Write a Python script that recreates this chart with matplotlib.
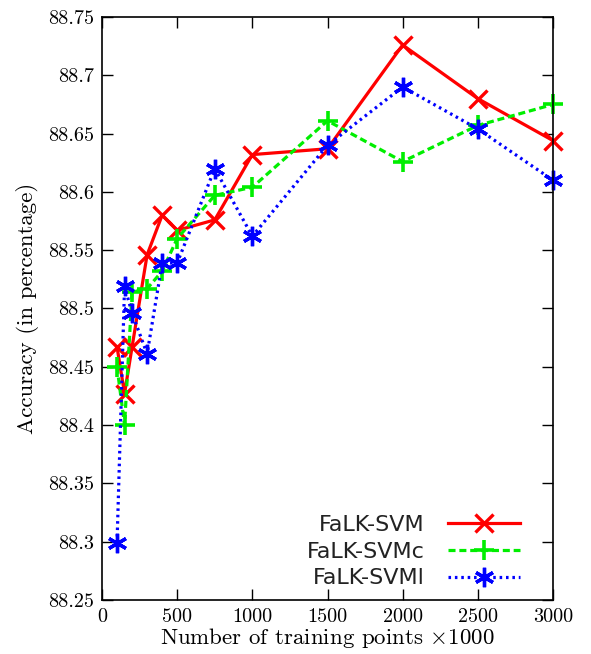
import matplotlib
matplotlib.use("Agg")
import matplotlib.pyplot as plt

# training set sizes (x1000)
sizes = [100, 150, 200, 300, 400, 500, 750, 1000, 1500, 2000, 2500, 3000]

falk_svm = [88.467, 88.427, 88.467, 88.546, 88.580, 88.567, 88.576, 88.632,
            88.637, 88.726, 88.680, 88.644]
falk_svmc = [88.450, 88.400, 88.514, 88.517, 88.532, 88.560, 88.597, 88.604,
             88.661, 88.626, 88.657, 88.675]
falk_svml = [88.299, 88.519, 88.496, 88.461, 88.539, 88.539, 88.620, 88.562,
             88.640, 88.690, 88.654, 88.610]

x_ticks = [0, 500, 1000, 1500, 2000, 2500, 3000]
y_ticks = [88.25, 88.3, 88.35, 88.4, 88.45, 88.5, 88.55, 88.6, 88.65, 88.7, 88.75]

plt.rcParams["mathtext.fontset"] = "cm"
serif = "cmr10"

fig = plt.figure(figsize=(5.91, 6.54), dpi=100)
ax = fig.add_axes([0.1726, 0.0826, 0.7631, 0.8914])

ax.plot(sizes, falk_svm, color="#ff0000", lw=2.3, ls="-", marker="x",
        ms=13, mew=2.4, label="FaLK-SVM", clip_on=False)
ax.plot(sizes, falk_svmc, color="#00ee00", lw=2.3, ls=(0, (2.2, 1.2)), marker="+",
        ms=15, mew=2.6, label="FaLK-SVMc", clip_on=False)
ax.plot(sizes, falk_svml, color="#0000ff", lw=2.3, ls=(0, (0.8, 1.2)), marker=(6, 2, 0),
        ms=14, mew=2.4, label="FaLK-SVMl", clip_on=False)

ax.set_xlim(0, 3000)
ax.set_ylim(88.25, 88.75)
ax.set_xticks(x_ticks)
ax.set_yticks(y_ticks)
ax.set_xticklabels([str(t) for t in x_ticks], fontfamily=serif, fontsize=14.5)
ax.set_yticklabels([f"{t:g}" for t in y_ticks], fontfamily=serif, fontsize=14.5)
ax.tick_params(direction="in", length=8, width=1, top=True, right=True, pad=6)
for s in ax.spines.values():
    s.set_linewidth(1.2)

ax.set_xlabel(r"Number of training points $\times$1000", fontfamily=serif,
              fontsize=16.5, labelpad=0)
ax.set_ylabel("Accuracy (in percentage)", fontfamily=serif, fontsize=16.5, labelpad=6)

leg = ax.legend(loc="lower right", bbox_to_anchor=(0.927, 0.02),
                frameon=False, markerfirst=False,
                handlelength=3.25, labelspacing=0.3,
                borderaxespad=0, handletextpad=1.03, borderpad=0,
                prop={"family": "DejaVu Sans", "size": 16})
for t in leg.get_texts():
    t.set_ha("right")
    t.set_color("#222222")

fig.savefig("out.png", dpi=100)
